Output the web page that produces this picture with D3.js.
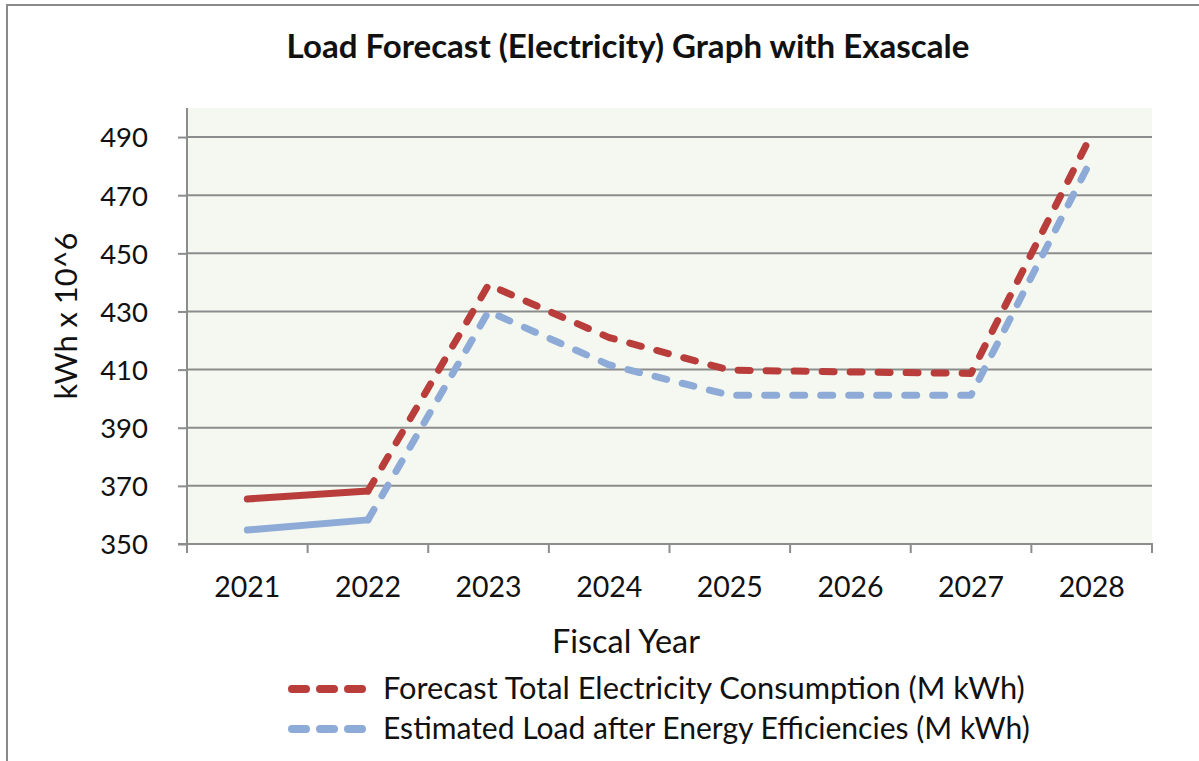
<!DOCTYPE html>
<html>
<head>
<meta charset="utf-8">
<script src="https://cdn.jsdelivr.net/npm/d3@7"></script>
<style>
  html, body { margin: 0; padding: 0; background: #ffffff; }
  svg { display: block; }
  text { font-family: Lato, "Open Sans", "DejaVu Sans", sans-serif; fill: #111; }
</style>
</head>
<body>
<svg id="chart" width="1199" height="761"></svg>
<script>
// Fiscal years on the category axis
const years = ["2021", "2022", "2023", "2024", "2025", "2026", "2027", "2028"];

// Forecast total electricity consumption (M kWh)
const forecastTotal = [365.5, 368.2, 439.2, 421.0, 409.8, 409.2, 408.7, 491.0];

// Estimated load after energy efficiencies (M kWh)
const estimatedLoad = [354.8, 358.3, 430.0, 411.6, 401.2, 401.2, 401.2, 482.5];

// Value axis tick labels
const yTicks = [350, 370, 390, 410, 430, 450, 470, 490];

const seriesNames = [
  "Forecast Total Electricity Consumption (M kWh)",
  "Estimated Load after Energy Efficiencies (M kWh)"
];
const seriesColors = ["#b83d3b", "#8eaad6"];

const svg = d3.select("#chart");
const W = 1199, H = 761;

// chart frame (only top and left edges fall within the page)
svg.append("path")
  .attr("d", `M7,${H} L7,5 L${W},5`)
  .attr("fill", "none")
  .attr("stroke", "#8a8a8a")
  .attr("stroke-width", 2);

const plot = { left: 187, right: 1152, top: 108, bottom: 544 };

const x = d3.scaleBand().domain(years).range([plot.left, plot.right]).padding(0);
const y = d3.scaleLinear().domain([350, 500]).range([plot.bottom, plot.top]);
const cx = d => x(d) + x.bandwidth() / 2;

// plot area background
svg.append("rect")
  .attr("x", plot.left).attr("y", plot.top)
  .attr("width", plot.right - plot.left).attr("height", plot.bottom - plot.top)
  .attr("fill", "#f4f8f1");

// horizontal gridlines
svg.append("g").selectAll("line")
  .data(yTicks.filter(v => v !== 350))
  .join("line")
  .attr("x1", plot.left).attr("x2", plot.right)
  .attr("y1", d => y(d)).attr("y2", d => y(d))
  .attr("stroke", "#8c8c8c").attr("stroke-width", 2);

// value axis
const yAxis = svg.append("g")
  .attr("transform", `translate(${plot.left},0)`)
  .call(d3.axisLeft(y).tickValues(yTicks).tickSize(9).tickPadding(30).tickSizeOuter(0));
yAxis.select(".domain").attr("stroke", "#8c8c8c").attr("stroke-width", 2)
  .attr("d", `M0,${plot.bottom + 1}V${plot.top}`);
yAxis.selectAll(".tick line").attr("stroke", "#8c8c8c").attr("stroke-width", 2);
yAxis.selectAll(".tick text")
  .attr("font-size", 27.5).attr("fill", "#111")
  .style("font-family", "Lato, 'Open Sans', sans-serif")
  .attr("dy", "0.36em");

// category axis: ticks sit on the category boundaries
const xAxisG = svg.append("g").attr("transform", `translate(0,${plot.bottom})`);
xAxisG.append("line")
  .attr("x1", plot.left - 9).attr("x2", plot.right + 1)
  .attr("y1", 0).attr("y2", 0)
  .attr("stroke", "#8c8c8c").attr("stroke-width", 2);
const boundaries = years.map(d => x(d)).concat([x(years[years.length - 1]) + x.bandwidth()]);
xAxisG.selectAll("line.tk")
  .data(boundaries)
  .join("line").attr("class", "tk")
  .attr("x1", d => d).attr("x2", d => d)
  .attr("y1", 0).attr("y2", 9)
  .attr("stroke", "#8c8c8c").attr("stroke-width", 2);
xAxisG.selectAll("text")
  .data(years)
  .join("text")
  .attr("x", d => cx(d))
  .attr("y", 53)
  .attr("text-anchor", "middle")
  .attr("font-size", 28.5)
  .text(d => d);

// fit a text element to a target width by adjusting its font size
function fitWidth(sel, target) {
  const node = sel.node();
  const fs = parseFloat(sel.attr("font-size"));
  const w = node.getComputedTextLength();
  if (w > 0) sel.attr("font-size", (fs * target / w).toFixed(2));
}

// title
const title = svg.append("text")
  .attr("x", 628).attr("y", 58)
  .attr("text-anchor", "middle")
  .attr("font-weight", "bold")
  .attr("font-size", 28)
  .text("Load Forecast (Electricity) Graph with Exascale");
fitWidth(title, 683);

// axis titles
const xTitle = svg.append("text")
  .attr("x", 626).attr("y", 653)
  .attr("text-anchor", "middle")
  .attr("font-size", 30)
  .text("Fiscal Year");
fitWidth(xTitle, 148);

const yTitle = svg.append("text")
  .attr("transform", "translate(77,316) rotate(-90)")
  .attr("text-anchor", "middle")
  .attr("font-size", 28)
  .text("kWh x 10^6");
fitWidth(yTitle, 167);

// series lines: first segment solid, the remainder dashed
const line = d3.line().x(d => cx(d.year)).y(d => y(d.value));
[forecastTotal, estimatedLoad].forEach((vals, i) => {
  const pts = years.map((yr, j) => ({ year: yr, value: vals[j] }));
  svg.append("path")
    .attr("d", line(pts.slice(0, 2)))
    .attr("fill", "none")
    .attr("stroke", seriesColors[i])
    .attr("stroke-width", 7)
    .attr("stroke-linecap", "round")
    .attr("stroke-linejoin", "round");
  svg.append("path")
    .attr("d", line(pts.slice(1)))
    .attr("fill", "none")
    .attr("stroke", seriesColors[i])
    .attr("stroke-width", 7)
    .attr("stroke-linecap", "round")
    .attr("stroke-linejoin", "round")
    .attr("stroke-dasharray", "12 16");
});

// legend
const legend = svg.append("g");
seriesNames.forEach((name, i) => {
  const ly = 689 + i * 40;
  legend.append("line")
    .attr("x1", 292).attr("x2", 362)
    .attr("y1", ly).attr("y2", ly)
    .attr("stroke", seriesColors[i])
    .attr("stroke-width", 8)
    .attr("stroke-linecap", "round")
    .attr("stroke-dasharray", "14 14");
  const t = legend.append("text")
    .attr("x", 383).attr("y", ly + 10)
    .attr("font-size", 27)
    .text(name);
  fitWidth(t, i === 0 ? 642 : 647);
});
</script>
</body>
</html>
